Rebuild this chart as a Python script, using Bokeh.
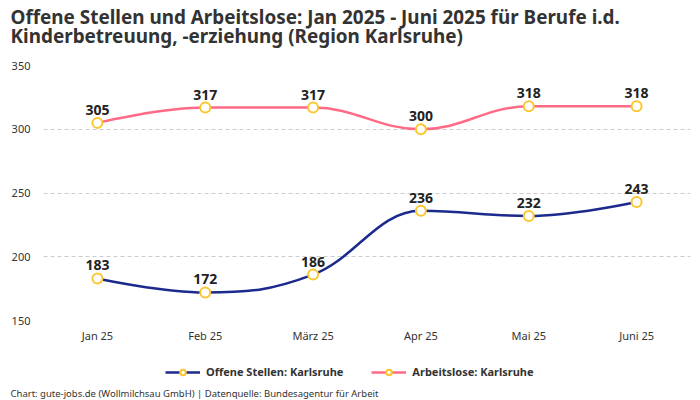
from bokeh.plotting import figure
from bokeh.layouts import column
from bokeh.models import (ColumnDataSource, FixedTicker, Legend, LegendItem,
                          LabelSet, Label, Range1d)
from bokeh.core.properties import value
from bokeh.embed import file_html
from bokeh.resources import INLINE

months = ["Jan 25", "Feb 25", "März 25", "Apr 25", "Mai 25", "Juni 25"]
offene = [183, 172, 186, 236, 232, 243]
arbeitslose = [305, 317, 317, 300, 318, 318]
y_ticks = [150, 200, 250, 300, 350]

title_1 = "Offene Stellen und Arbeitslose: Jan 2025 - Juni 2025 für Berufe i.d."
title_2 = "Kinderbetreuung, -erziehung (Region Karlsruhe)"
footer = "Chart: gute-jobs.de (Wollmilchsau GmbH) | Datenquelle: Bundesagentur für Arbeit"
name_offene = "Offene Stellen: Karlsruhe"
name_arbeitslose = "Arbeitslose: Karlsruhe"

BLUE = "#1b2a8c"
PINK = "#ff6b86"
YELLOW = "#fcc62d"
FONT = "Noto Sans"
W = 700
H_TOP, H_MAIN, H_BOT = 57, 288, 55

xs = [i + 0.5 for i in range(len(months))]


def spline_segments(xv, yv, smoothing=1.5):
    n = len(xv)
    denom = smoothing + 1
    left = [None] * n
    right = [None] * n
    for i in range(n):
        x, y = xv[i], yv[i]
        if 0 < i < n - 1:
            lx = (smoothing * x + xv[i - 1]) / denom
            ly = (smoothing * y + yv[i - 1]) / denom
            rx = (smoothing * x + xv[i + 1]) / denom
            ry = (smoothing * y + yv[i + 1]) / denom
            corr = ((ry - ly) * (rx - x)) / (rx - lx) + y - ry
            ly += corr
            ry += corr
            if ly > max(yv[i - 1], y):
                ly = max(yv[i - 1], y); ry = 2 * y - ly
            elif ly < min(yv[i - 1], y):
                ly = min(yv[i - 1], y); ry = 2 * y - ly
            if ry > max(y, yv[i + 1]):
                ry = max(y, yv[i + 1]); ly = 2 * y - ry
            elif ry < min(y, yv[i + 1]):
                ry = min(y, yv[i + 1]); ly = 2 * y - ry
            left[i] = (lx, ly)
            right[i] = (rx, ry)
        else:
            left[i] = right[i] = (x, y)
    d = dict(x0=[], y0=[], x1=[], y1=[], cx0=[], cy0=[], cx1=[], cy1=[])
    for i in range(n - 1):
        d["x0"].append(xv[i]); d["y0"].append(yv[i])
        d["x1"].append(xv[i + 1]); d["y1"].append(yv[i + 1])
        d["cx0"].append(right[i][0]); d["cy0"].append(right[i][1])
        d["cx1"].append(left[i + 1][0]); d["cy1"].append(left[i + 1][1])
    return ColumnDataSource(d)


def strip(h):
    f = figure(width=W, height=h, output_backend="svg", toolbar_location=None,
               x_range=Range1d(0, W), y_range=Range1d(0, h),
               x_axis_type=None, y_axis_type=None,
               min_border_left=0, min_border_right=0, min_border_top=0, min_border_bottom=0)
    f.outline_line_color = None
    f.grid.visible = False
    f.background_fill_color = "white"
    f.border_fill_color = "white"
    if "frame_align" in f.properties():
        f.frame_align = False
    return f


# title strip
p0 = strip(H_TOP)
p0.add_layout(Label(x=10, y=H_TOP - 16.5, text=title_1, text_baseline="alphabetic",
                    text_font=FONT, text_font_size="18.9px", text_font_style="bold",
                    text_color="#333333"))
p0.add_layout(Label(x=10, y=H_TOP - 35, text=title_2, text_baseline="alphabetic",
                    text_font=FONT, text_font_size="18.9px", text_font_style="bold",
                    text_color="#333333"))

# main chart
p = figure(width=W, height=H_MAIN, output_backend="svg", toolbar_location=None,
           x_range=Range1d(0, len(months)), y_range=Range1d(150, 350),
           min_border_left=43, min_border_right=10, min_border_top=8, min_border_bottom=24)
p.outline_line_color = None
p.background_fill_color = "white"
p.border_fill_color = "white"
if "frame_align" in p.properties():
    p.frame_align = False

p.xaxis.ticker = FixedTicker(ticks=xs)
p.xaxis.major_label_overrides = {x: m for x, m in zip(xs, months)}
p.yaxis.ticker = FixedTicker(ticks=y_ticks)
for ax in (p.xaxis, p.yaxis):
    ax.axis_line_color = None
    ax.major_tick_line_color = None
    ax.minor_tick_line_color = None
    ax.major_tick_out = 0
    ax.major_tick_in = 0
    ax.major_label_text_font = FONT
    ax.major_label_text_font_size = "11px"
    ax.major_label_text_color = "#333333"
p.yaxis.major_label_standoff = 13
p.xaxis.major_label_standoff = 7

p.xgrid.grid_line_color = None
p.ygrid.grid_line_color = "#cccccc"
p.ygrid.grid_line_dash = "4 3"
p.ygrid.grid_line_width = 1

# legend / footer strip
p2 = strip(H_BOT)

series = [(offene, BLUE, name_offene), (arbeitslose, PINK, name_arbeitslose)]
items = []
for vals, col, name in series:
    seg = spline_segments(xs, vals)
    p.bezier(x0="x0", y0="y0", x1="x1", y1="y1", cx0="cx0", cy0="cy0",
             cx1="cx1", cy1="cy1", source=seg, line_color=col, line_width=2.5)
    src = ColumnDataSource(dict(x=xs, y=vals, t=[str(v) for v in vals]))
    p.scatter("x", "y", source=src, size=10, fill_color="white",
              line_color=YELLOW, line_width=2)
    lbl = LabelSet(x="x", y="y", text="t", source=src, text_align="center",
                   text_baseline="bottom", y_offset=8, text_font=value(FONT),
                   text_font_size="14px", text_font_style="bold", text_color="#222222")
    p.add_layout(lbl)
    # same series in the strip (outside its range) only to feed the legend
    br2 = p2.bezier(x0="x0", y0="y0", x1="x1", y1="y1", cx0="cx0", cy0="cy0",
                    cx1="cx1", cy1="cy1", source=seg, line_color=col, line_width=2.5)
    sc2 = p2.scatter("x", "y", source=src, size=10, fill_color="white",
                     line_color=YELLOW, line_width=2)
    items.append(LegendItem(label=name, renderers=[br2, sc2]))

legend = Legend(items=items, orientation="horizontal", location=(165, 21),
                label_text_font=FONT, label_text_font_size="11px",
                label_text_font_style="bold", label_text_color="#333333",
                glyph_width=35, glyph_height=14, label_standoff=6, spacing=28,
                border_line_color=None, background_fill_alpha=0,
                padding=0, margin=0)
p2.add_layout(legend, "center")

p2.add_layout(Label(x=10, y=7, text=footer, text_baseline="middle",
                    text_font=FONT, text_font_size="9.5px",
                    text_color="#333333"))

layout = column(p0, p, p2, spacing=0)
open("out.html", "w").write(file_html(layout, INLINE))
